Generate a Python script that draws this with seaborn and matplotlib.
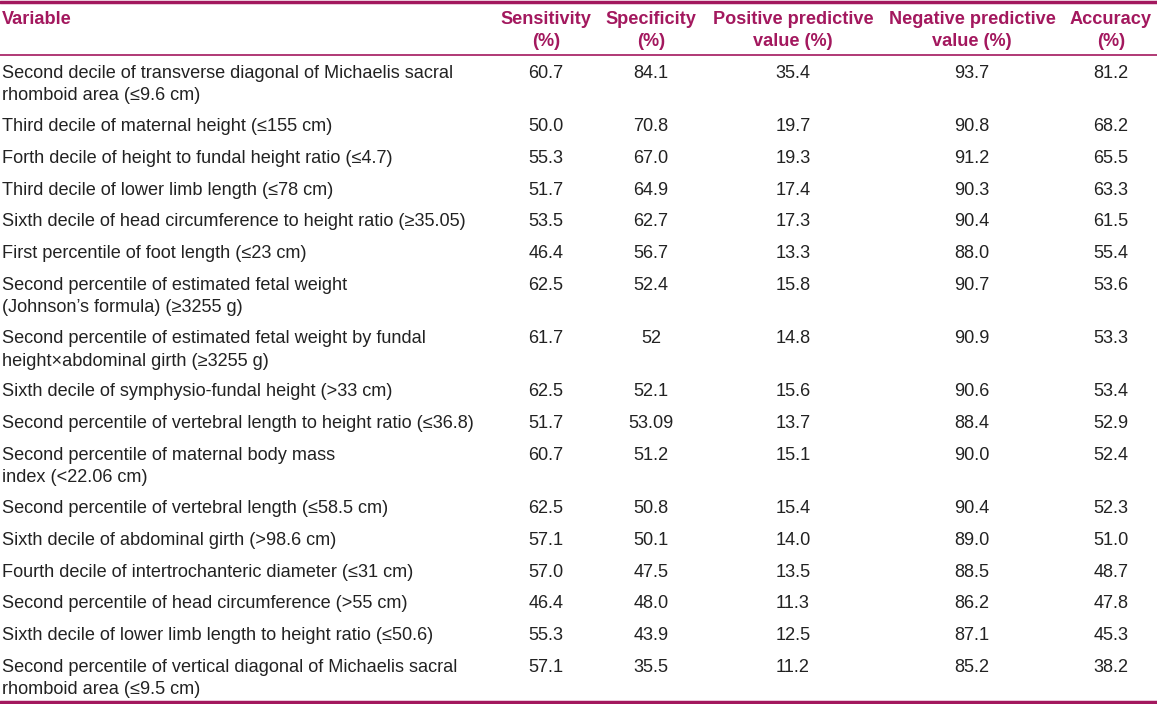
import matplotlib
matplotlib.use("Agg")
import matplotlib.pyplot as plt
import seaborn as sns
import pandas as pd

sns.set_theme(style="white")
plt.rcParams['font.family'] = ['Liberation Sans', 'DejaVu Sans']

# Table data
headers = ["Variable", "Sensitivity\n(%)", "Specificity\n(%)", "Positive predictive\nvalue (%)",
           "Negative predictive\nvalue (%)", "Accuracy\n(%)"]

variables = [
    "Second decile of transverse diagonal of Michaelis sacral\nrhomboid area (≤9.6 cm)",
    "Third decile of maternal height (≤155 cm)",
    "Forth decile of height to fundal height ratio (≤4.7)",
    "Third decile of lower limb length (≤78 cm)",
    "Sixth decile of head circumference to height ratio (≥35.05)",
    "First percentile of foot length (≤23 cm)",
    "Second percentile of estimated fetal weight\n(Johnson’s formula) (≥3255 g)",
    "Second percentile of estimated fetal weight by fundal\nheight×abdominal girth (≥3255 g)",
    "Sixth decile of symphysio-fundal height (>33 cm)",
    "Second percentile of vertebral length to height ratio (≤36.8)",
    "Second percentile of maternal body mass\nindex (<22.06 cm)",
    "Second percentile of vertebral length (≤58.5 cm)",
    "Sixth decile of abdominal girth (>98.6 cm)",
    "Fourth decile of intertrochanteric diameter (≤31 cm)",
    "Second percentile of head circumference (>55 cm)",
    "Sixth decile of lower limb length to height ratio (≤50.6)",
    "Second percentile of vertical diagonal of Michaelis sacral\nrhomboid area (≤9.5 cm)",
]
sensitivity = ["60.7", "50.0", "55.3", "51.7", "53.5", "46.4", "62.5", "61.7", "62.5",
               "51.7", "60.7", "62.5", "57.1", "57.0", "46.4", "55.3", "57.1"]
specificity = ["84.1", "70.8", "67.0", "64.9", "62.7", "56.7", "52.4", "52", "52.1",
               "53.09", "51.2", "50.8", "50.1", "47.5", "48.0", "43.9", "35.5"]
ppv = ["35.4", "19.7", "19.3", "17.4", "17.3", "13.3", "15.8", "14.8", "15.6",
       "13.7", "15.1", "15.4", "14.0", "13.5", "11.3", "12.5", "11.2"]
npv = ["93.7", "90.8", "91.2", "90.3", "90.4", "88.0", "90.7", "90.9", "90.6",
       "88.4", "90.0", "90.4", "89.0", "88.5", "86.2", "87.1", "85.2"]
accuracy = ["81.2", "68.2", "65.5", "63.3", "61.5", "55.4", "53.6", "53.3", "53.4",
            "52.9", "52.4", "52.3", "51.0", "48.7", "47.8", "45.3", "38.2"]

df = pd.DataFrame({"Variable": variables, "Sensitivity": sensitivity, "Specificity": specificity,
                   "PPV": ppv, "NPV": npv, "Accuracy": accuracy})

accent = "#A3185E"
text_col = "#222222"
fs = 13.1

fig = plt.figure(figsize=(11.57, 7.04), dpi=100)
ax = fig.add_axes([0, 0, 1, 1])
ax.set_xlim(0, 1157)
ax.set_ylim(704, 0)
ax.axis("off")

col_x = [2, 546, 651, 793, 972, 1111]
line_gap = 22.3


def put(x, y, s, left, **kw):
    # draw one line at a time so the line gap is fixed
    for k, line in enumerate(s.split("\n")):
        ax.text(x, y + k * line_gap, line, ha="left" if left else "center",
                va="baseline", fontsize=fs, **kw)


# header
for i, h in enumerate(headers):
    put(col_x[i], 24, h, i == 0, fontweight="bold", color=accent)

ax.axhline(1.5, color=accent, lw=2.5)
ax.axhline(55, color=accent, lw=1.2)
ax.axhline(702, color=accent, lw=2.5)

# body rows
y = 78
for _, row in df.iterrows():
    for i, v in enumerate(row.values):
        put(col_x[i], y, v, i == 0, color=text_col)
    n_lines = row["Variable"].count("\n") + 1
    y += 31.75 + 21.5 * (n_lines - 1)

fig.savefig("out.png", dpi=100)
